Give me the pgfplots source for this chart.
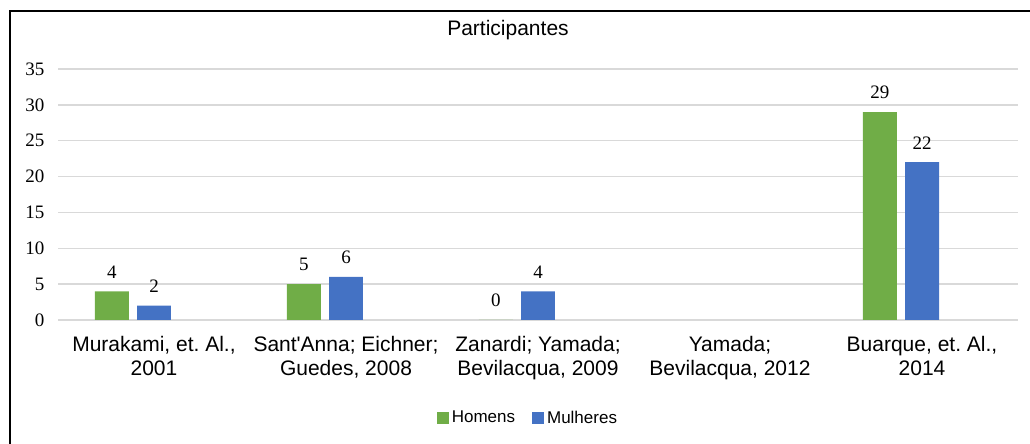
\documentclass[border=0pt]{standalone}
\usepackage{fontspec}
\setmainfont{Liberation Sans}
\newfontfamily\numfont{Liberation Serif}
\usepackage{pgfplots}
\pgfplotsset{compat=1.18}
\definecolor{hgreen}{HTML}{70AD47}
\definecolor{mblue}{HTML}{4472C4}
\definecolor{gridc}{HTML}{D9D9D9}
\frenchspacing
\begin{document}
\begin{tikzpicture}[x=1pt,y=1pt]
\useasboundingbox (0,0) rectangle (1030,444);
\draw[line width=2pt] (10,0) -- (10,433) -- (1030,433);
\node[font=\fontsize{21}{24}\selectfont] at (508,414) {Participantes};
\begin{axis}[
  at={(58pt,124pt)}, anchor=south west,
  scale only axis, width=960pt, height=251pt,
  xmin=-0.5, xmax=4.5, ymin=0, ymax=35,
  ytick={0,5,...,35},
  xtick={0,1,2,3,4},
  xticklabels={{Murakami, et. Al.,\\2001},{Sant\textquotesingle Anna; Eichner;\\Guedes, 2008},{Zanardi; Yamada;\\Bevilacqua, 2009},{Yamada;\\Bevilacqua, 2012},{Buarque, et. Al.,\\2014}},
  xticklabel style={align=center, font=\fontsize{21}{24}\selectfont, yshift=-13pt},
  yticklabel style={font=\numfont\fontsize{19}{20}\selectfont, xshift=-10pt},
  /pgf/number format/assume math mode=true,
  axis line style={draw=none},
  major tick length=0pt,
  ymajorgrids, grid style={gridc, line width=1.5pt},
  ybar, bar width=0.177,
  nodes near coords,
  nodes near coords style={font=\numfont\fontsize{19}{20}\selectfont, inner sep=0pt, yshift=13pt, text=black},
  legend style={at={(0.49,-0.39)}, anchor=center, draw=none, fill=none,
    legend columns=2, font=\fontsize{17}{20}\selectfont,
    nodes={inner sep=3pt},
    /tikz/every even column/.append style={column sep=14pt}},
  legend cell align=left,
]
\addplot[fill=hgreen, draw=none, bar shift=-0.219,
  legend image code/.code={\fill[hgreen] (0pt,-6pt) rectangle (12pt,6pt);}]
  coordinates {(0,4) (1,5) (2,0) (4,29)};
\addlegendentry{Homens}
\addplot[fill=mblue, draw=none, bar shift=0,
  legend image code/.code={\fill[mblue] (0pt,-6pt) rectangle (12pt,6pt);}]
  coordinates {(0,2) (1,6) (2,4) (4,22)};
\addlegendentry{Mulheres}
\end{axis}
\end{tikzpicture}
\end{document}
